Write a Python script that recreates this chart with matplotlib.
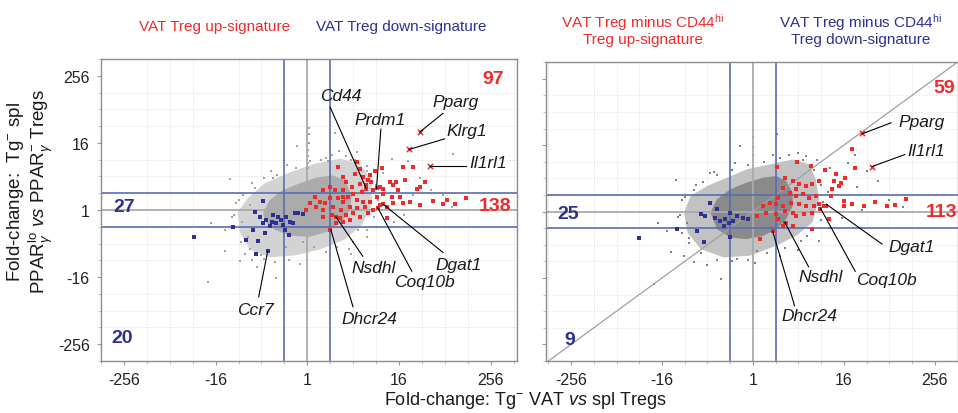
import matplotlib.pyplot as plt

plt.rcParams['font.family'] = ['Liberation Sans', 'DejaVu Sans']
plt.rcParams['mathtext.fontset'] = 'custom'
plt.rcParams['mathtext.rm'] = 'Liberation Sans'
plt.rcParams['mathtext.it'] = 'Liberation Sans:italic'
plt.rcParams['mathtext.bf'] = 'Liberation Sans:bold'

# all values are log2 fold-changes
tick_pos = [-8, -4, 0, 4, 8]
tick_labels = ["-256", "-16", "1", "16", "256"]

# ---- left panel: VAT vs spl (x) / PPARg-lo vs PPARg- (y)
left_core_x = [-1.93, -1.64, -1.07, -0.33, 0.41, 1.11, 1.64, 1.94, 1.86, 1.51, 0.90, 0.11, -0.76, -1.42, -1.81]
left_core_y = [-0.19, 0.59, 1.18, 1.59, 1.94, 2.06, 1.76, 0.88, 0.0, -0.71, -1.29, -1.59, -1.53, -1.18, -0.71]
left_halo_x = [-3.03, -2.6, -1.86, -0.76, 0.33, 1.42, 2.29, 2.82, 2.82, 2.38, 1.64, 0.55, -0.55, -1.64, -2.51, -2.95]
left_halo_y = [-0.12, 0.7, 1.59, 2.24, 2.76, 3.06, 2.76, 1.76, 0.29, -0.88, -1.76, -2.35, -2.71, -2.82, -2.35, -1.29]
left_gray_x = [0.07, 0.07, 0.07, 0.05, 0.05, 0.05, 0.05, -0.47, 1.2, 1.39, 2.15, 3.68, 6.37, -3.38, -4.19, -3.6,
               -4.33, -1.35, -2.95, -2.51, -0.91, -0.18, 0.3, -3.3, -3.0, -2.4, -1.6, -0.9, 0.8, 1.9, 2.6, 3.3,
               4.4, 4.9, 5.4, 5.9, 6.3, 5.1, 4.2, 3.8, 3.0, 2.6, 1.8, -1.9, -2.6, -3.6, -2.2, 2.2, 4.6,
               -3.2, -3.1, -2.8, -2.3, -1.9, -1.3, -0.5, 0.1, 0.6, 1.1, 1.7, 2.1, 2.6, 3.0, 3.1, 2.9, 2.6, 2.0,
               1.3, 0.8, 0.0, -0.8, -1.4, -2.0, -2.7, -2.9, -3.2, -2.85, -2.5, -1.5, 0.9, 2.4, 1.9, -0.3, -2.4]
left_gray_y = [4.9, 4.5, 4.0, 3.6, 3.2, 2.8, 2.5, 3.82, 4.6, 3.53, 3.43, 3.04, 3.33, 1.86, -0.75, -2.45,
               -4.31, -4.08, -3.04, -2.35, -2.2, -1.9, -2.2, -0.4, 0.6, 1.6, 2.3, 2.7, 3.1, 3.0, 2.6, 2.2,
               2.9, 1.9, 1.2, 0.9, 0.2, 0.0, -0.3, -0.7, -1.0, -1.6, -2.3, -2.9, -1.6, -1.2, -3.4, -1.2, 0.9,
               -0.3, 0.4, 0.9, 1.3, 1.9, 2.1, 2.5, 2.9, 3.0, 3.3, 3.2, 3.0, 2.3, 1.5, 0.6, -0.4, -1.2, -1.9,
               -2.2, -2.5, -2.9, -3.0, -3.1, -2.7, -2.6, -1.9, -1.0, -0.7, 0.3, 1.9, 2.9, 1.2, -2.6, -3.2, -3.0]
left_red_x = [4.18, 4.62, 3.28, 2.15, 1.35, 1.56, 2.07, 2.44, 2.73, 2.95, 3.17, 3.60, 3.75, 3.86, 3.97, 4.26,
              4.77, 5.13, 4.91, 1.71, 1.93, 2.29, 2.58, 2.80, 0.98, 0.69, 1.20, 1.56, 2.00, 2.37, 2.87, 3.31,
              3.68, 4.04, 4.48, 4.19, 4.91, 5.49, 5.93, 6.08, 6.44, 6.92, 0.33, 0.55, 0.76, 0.98, 1.35, 1.56,
              1.78, 2.15, 2.44, 2.73, 3.02, 3.17, 3.46, 3.75, 0.40, 0.69, 1.13, 1.49, 1.86, 2.15, 2.51, 2.87,
              0.69, 1.06, 1.42, 1.71, 2.00, 2.29, 2.66, 1.27, 1.56, 1.86, 1.01, 3.46, 0.11, -0.04, -0.47, 3.30,
              3.08, 1.24, 2.55, 3.02, 2.29, 2.66, 3.31, 1.56]
left_red_y = [2.55, 2.59, 2.51, 2.84, 2.55, 1.96, 2.12, 1.96, 2.06, 2.35, 1.37, 1.67, 1.47, 1.67, 1.18, 1.76,
              1.27, 1.67, 1.37, 1.67, 1.37, 1.57, 1.47, 1.67, 1.37, 1.18, 1.18, 1.18, 0.98, 1.08, 1.18, 0.98,
              0.78, 0.78, 0.49, 0.39, 0.29, 0.55, 0.35, 0.59, 0.35, 0.73, 0.78, 0.49, 0.39, 0.69, 0.69, 0.49,
              0.78, 0.59, 0.49, 0.49, 0.78, 0.29, 0.20, 0.39, 0.20, 0.0, 0.20, 0.0, 0.20, 0.10, 0.20, 0.0,
              -0.39, -0.29, -0.49, -0.29, -0.20, -0.39, -0.20, -0.78, -0.69, -0.59, -1.18, -0.49, 0.39, 0.0, -0.2, 0.35,
              0.12, -0.41, 1.27, 1.31, 2.45, 1.76, 1.27, 0.78]
left_blue_x = [-4.94, -1.93, -2.29, -2.07, -1.78, -1.56, -1.35, -1.13, -0.91, -0.76, -0.55, -0.40, -0.18, -1.06,
               -1.27, -1.49, -1.86, -2.15, -2.66, -2.37, -2.22, -1.73, -3.24, -0.80, -0.62, -0.98, -1.64, -1.93]
left_blue_y = [-1.61, 0.55, -0.10, -0.39, -0.59, -0.69, -0.78, -0.59, -0.39, -0.69, -0.20, -0.20, -0.24, -0.88,
               -0.39, -0.29, -1.37, -1.86, -1.76, -1.18, -2.65, -2.47, -1.04, -1.47, -0.78, -1.18, -0.98, -0.78]
left_marked_x = [4.91, 4.45, 5.35]
left_marked_y = [4.65, 3.61, 2.63]

left_genes = ["Cd44", "Prdm1", "Pparg", "Klrg1", "Il1rl1", "Dgat1", "Coq10b", "Nsdhl", "Dhcr24", "Ccr7"]
left_text_x = [1.47, 3.17, 6.49, 6.97, 7.88, 6.62, 5.09, 2.90, 2.73, -2.25]
left_text_y = [6.82, 5.41, 6.47, 4.71, 2.82, -3.24, -4.29, -3.41, -6.47, -5.94]
left_line_x0 = [1.00, 3.21, 5.92, 5.99, 6.92, 5.92, 4.56, 2.42, 1.99, -2.12]
left_line_y0 = [6.12, 4.82, 5.76, 4.24, 2.65, -2.53, -3.65, -2.76, -5.76, -5.18]
left_line_x1 = [2.57, 3.02, 4.91, 4.45, 5.35, 3.30, 3.08, 1.25, 1.03, -1.73]
left_line_y1 = [1.29, 1.29, 4.65, 3.61, 2.65, 0.35, 0.12, -0.41, -1.18, -2.47]

left_counts = ["97", "138", "27", "20"]
left_count_x = [8.11, 8.19, -7.97, -8.09]
left_count_y = [7.84, 0.29, 0.20, -7.61]

# ---- right panel: VAT vs spl (x) / VAT minus CD44hi (y)
right_core_x = [-1.87, -1.58, -1.0, -0.28, 0.45, 1.03, 1.46, 1.75, 1.75, 1.46, 1.03, 0.45, -0.28, -1.0, -1.58]
right_core_y = [-0.06, 0.74, 1.34, 1.74, 2.04, 2.14, 1.84, 1.14, 0.34, -0.46, -1.06, -1.46, -1.66, -1.56, -1.06]
right_halo_x = [-3.03, -2.74, -2.01, -1.14, -0.28, 0.74, 1.75, 2.48, 2.77, 2.91, 2.62, 1.9, 1.03, -0.13, -1.29, -2.3, -2.88]
right_halo_y = [-0.06, 0.94, 1.54, 2.04, 2.54, 2.84, 3.14, 2.84, 1.94, 0.74, -0.66, -1.46, -2.06, -2.66, -2.76, -2.26, -1.26]
right_gray_x = [0.0, 0.0, 0.0, 0.0, -0.57, 1.06, 1.97, 2.33, 5.01, 5.52, -3.39, -4.19, -3.61, -4.33, -1.41, -2.59,
                -3.03, -0.71, 0.2, -2.0, -3.3, -3.1, -2.5, -1.7, -0.8, 0.9, 2.8, 3.4, 4.2, 4.6, 5.2, 6.0, 4.8,
                3.9, 3.4, 2.9, 2.0, 1.2, 6.6, 4.5, -2.8, -3.8,
                -3.2, -3.0, -2.6, -2.2, -1.6, -0.9, -0.2, 0.5, 1.2, 1.6, 2.2, 2.7, 3.0, 3.1, 3.0, 2.6, 2.1,
                1.4, 0.6, -0.2, -0.9, -1.6, -2.3, -2.8, -3.1, -2.9, 0.1, 2.4, -1.9, 3.3]
right_gray_y = [4.94, 4.5, 3.9, 3.4, 3.94, 4.64, 3.54, 3.34, 2.44, 1.84, 1.88, -0.7, -2.42, -4.36, -4.06, -3.06,
                -2.66, -2.86, -2.4, -3.2, -0.3, 0.7, 1.6, 2.4, 2.9, 3.4, 3.1, 2.6, 2.9, 1.5, 1.0, 0.7, 0.1,
                -0.4, -1.0, -1.8, -2.3, -2.7, 0.3, 3.4, -1.6, -1.2,
                -0.2, 0.9, 1.3, 1.8, 2.2, 2.5, 2.8, 3.0, 3.2, 3.4, 3.1, 2.5, 1.6, 0.6, -0.5, -1.1, -1.8,
                -2.2, -2.5, -2.9, -3.0, -2.9, -2.5, -1.9, -1.3, -0.7, -3.1, -1.5, 2.3, 1.2]
right_red_x = [4.36, 4.51, 3.17, 2.55, 1.93, 1.06, 1.39, 1.75, 2.04, 2.33, 2.62, 3.57, 3.86, 3.78, 4.04, 3.49,
               3.42, 4.0, 4.36, 4.0, 4.87, 5.38, 5.88, 6.25, 6.75, 1.32, 1.61, 1.9, 2.19, 2.48, 2.77, 1.1,
               0.74, 0.45, 1.03, 1.32, 1.68, 2.04, 2.33, 2.7, 2.91, 3.12, 0.59, 1.03, 1.39, 1.75, 1.9, 2.26,
               2.62, 1.1, 1.46, 1.75, 1.32, 0.88, 0.3, 2.62, 3.35, 3.2, 2.96, 1.39, 0.16, 1.9, 2.91, 3.64]
right_red_y = [3.74, 2.64, 2.5, 2.74, 2.98, 2.7, 2.04, 1.84, 1.64, 1.54, 1.64, 1.84, 1.74, 1.54, 2.04, 1.34,
               0.94, 0.64, 0.44, 0.34, 0.34, 0.58, 0.34, 0.4, 0.74, 1.44, 1.14, 0.94, 1.04, 0.84, 0.94, 0.84,
               0.54, 0.34, 0.44, 0.34, 0.54, 0.44, 0.34, 0.34, 0.44, 0.34, -0.06, -0.16, 0.04, -0.06, -0.26, -0.16,
               -0.06, -0.46, -0.66, -0.86, -0.86, -1.16, -1.66, -1.06, -0.46, 0.34, 0.18, -0.66, -0.26, 1.34, 1.84, 2.24]
right_blue_x = [-4.99, -3.32, -2.3, -2.09, -1.87, -1.65, -1.43, -1.22, -1.07, -0.86, -0.71, -0.42, -0.2,
                -2.16, -2.45, -1.0, -1.29, -1.58, -1.0]
right_blue_y = [-1.62, -1.06, -0.16, -0.26, 0.54, -0.36, -0.56, -0.46, -0.66, -0.56, -0.26, -0.36, -0.46,
                -1.86, -1.16, -1.56, -0.86, 0.14, -0.06]
right_marked_x = [4.8, 5.23]
right_marked_y = [4.7, 2.7]

right_genes = ["Pparg", "Il1rl1", "Dgat1", "Coq10b", "Nsdhl", "Dhcr24"]
right_text_x = [7.42, 7.64, 6.99, 5.85, 3.0, 2.49]
right_text_y = [5.40, 3.67, -2.13, -4.11, -3.93, -6.27]
right_line_x0 = [6.07, 6.68, 5.68, 4.5, 2.45, 1.83]
right_line_y0 = [5.34, 3.43, -1.96, -3.6, -3.33, -5.67]
right_line_x1 = [4.8, 5.24, 3.23, 2.97, 1.4, 0.87]
right_line_y1 = [4.68, 2.71, 0.44, 0.2, -0.65, -1.2]

right_counts = ["59", "113", "25", "9"]
right_count_x = [8.42, 8.28, -8.14, -8.06]
right_count_y = [7.5, 0.0, -0.1, -7.7]

RED = "#ee2a2a"
BLUE = "#2e3192"
LINE_BLUE = "#5b6db3"
count_colors = [RED, RED, BLUE, BLUE]


def setup_axes(ax, xlim, ylim, show_y):
    ax.set_xlim(*xlim)
    ax.set_ylim(*ylim)
    ax.set_xticks(tick_pos)
    ax.set_xticklabels(tick_labels, fontsize=11.5)
    ax.set_yticks(tick_pos)
    if show_y:
        ax.set_yticklabels(tick_labels, fontsize=11.5)
    else:
        ax.set_yticklabels([])
    ax.set_xticks(range(-9, 10), minor=True)
    ax.set_yticks(range(-9, 10), minor=True)
    ax.tick_params(which="major", length=3, color="#999999", pad=5, labelcolor="#222222")
    ax.tick_params(which="minor", length=2, color="#bbbbbb")
    ax.grid(which="minor", color="#dcdcdc", linestyle=(0, (2, 2)), linewidth=0.5)
    ax.set_axisbelow(True)
    for s in ax.spines.values():
        s.set_color("#8c8c8c")
        s.set_linewidth(1.0)


def draw_panel(ax, core, halo, gray, red, blue, marked, genes, counts, gray_col, core_col, halo_col):
    ax.fill(halo[0], halo[1], color=halo_col, lw=0, zorder=1)
    ax.fill(core[0], core[1], color=core_col, lw=0, zorder=1.1)
    ax.scatter(gray[0], gray[1], s=3.5, marker="s", color=gray_col, lw=0, zorder=1.2)
    ax.axvline(0, color="#aaaaaa", lw=1.3, zorder=2)
    ax.axhline(0, color="#aaaaaa", lw=1.3, zorder=2)
    for v in (-1, 1):
        ax.axvline(v, color=LINE_BLUE, lw=1.2, zorder=2.1)
        ax.axhline(v, color=LINE_BLUE, lw=1.2, zorder=2.1)
    ax.scatter(red[0], red[1], s=6, marker="s", color=RED, lw=0, zorder=3)
    ax.scatter(blue[0], blue[1], s=6, marker="s", color=BLUE, lw=0, zorder=3)
    ax.scatter(marked[0], marked[1], s=14, marker="x", color=RED, lw=1.1, zorder=3)
    names, tx, ty, x0, y0, x1, y1 = genes
    for i, name in enumerate(names):
        ax.plot([x0[i], x1[i]], [y0[i], y1[i]], color="black", lw=0.8, zorder=4)
        ax.text(tx[i], ty[i], name, style="italic", fontsize=12.5, ha="center", va="center",
                color="#1a1a1a", zorder=5)
    labels, cx, cy = counts
    for i, lab in enumerate(labels):
        ax.text(cx[i], cy[i], lab, fontsize=14, fontweight="bold", ha="center", va="center",
                color=count_colors[i], zorder=5, clip_on=False)


fig = plt.figure(figsize=(9.58, 4.14), dpi=100)
ax1 = fig.add_axes([0.1054, 0.1256, 0.4343, 0.7295])
ax2 = fig.add_axes([0.570, 0.1256, 0.4295, 0.722])

setup_axes(ax1, (-9.0, 9.15), (-8.9, 8.8), True)
setup_axes(ax2, (-9.1, 9.0), (-9.0, 9.0), False)

draw_panel(ax1, (left_core_x, left_core_y), (left_halo_x, left_halo_y), (left_gray_x, left_gray_y),
           (left_red_x, left_red_y), (left_blue_x, left_blue_y), (left_marked_x, left_marked_y),
           (left_genes, left_text_x, left_text_y, left_line_x0, left_line_y0, left_line_x1, left_line_y1),
           (left_counts, left_count_x, left_count_y), "#a3a3a3", "#ababab", "#d3d3d3")

ax2.plot([-9.1, 9.0], [-9.1, 9.0], color="#a0a0a0", lw=0.9, zorder=1.5)
draw_panel(ax2, (right_core_x, right_core_y), (right_halo_x, right_halo_y), (right_gray_x, right_gray_y),
           (right_red_x, right_red_y), (right_blue_x, right_blue_y), (right_marked_x, right_marked_y),
           (right_genes, right_text_x, right_text_y, right_line_x0, right_line_y0, right_line_x1, right_line_y1),
           (right_counts, right_count_x, right_count_y), "#808080", "#8a8a8a", "#c2c2c2")

# titles above the panels
fig.text(215 / 958, 1 - 27 / 414, "VAT Treg up-signature", color=RED, fontsize=11, ha="center", va="center")
fig.text(401 / 958, 1 - 27 / 414, "VAT Treg down-signature", color=BLUE, fontsize=11, ha="center", va="center")
fig.text(643 / 958, 1 - 30 / 414, "VAT Treg minus CD44$^{\\mathrm{hi}}$\nTreg up-signature", color=RED,
         fontsize=11, ha="center", va="center", multialignment="center", linespacing=1.0)
fig.text(861 / 958, 1 - 30 / 414, "VAT Treg minus CD44$^{\\mathrm{hi}}$\nTreg down-signature", color=BLUE,
         fontsize=11, ha="center", va="center", multialignment="center", linespacing=1.0)

# axis labels
fig.text(525 / 958, 1 - 401 / 414, "Fold-change: Tg$^{-}$ VAT $\\mathit{vs}$ spl Tregs", fontsize=13,
         ha="center", va="center", color="#1a1a1a")
fig.text(30 / 958, 1 - 192 / 414,
         "Fold-change:  Tg$^{-}$ spl\nPPAR$_{\\gamma}^{\\mathrm{lo}}$ $\\mathit{vs}$ PPAR$_{\\gamma}^{-}$ Tregs",
         fontsize=13.5, rotation=90, ha="center", va="center", multialignment="center", linespacing=1.05,
         color="#1a1a1a")

fig.savefig("out.png", dpi=100)
